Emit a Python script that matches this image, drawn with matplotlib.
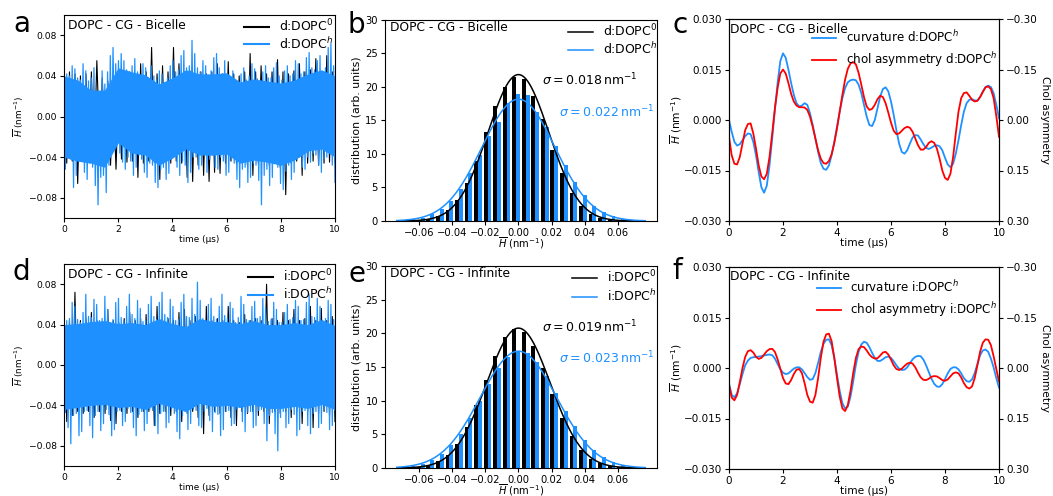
import numpy as np
import matplotlib
matplotlib.use("Agg")
import matplotlib.pyplot as plt

W, H = 1053, 496
BLUE = "#1E90FF"

# ---------------- time series (panels a, d), units 1e-3 nm^-1
# blue: extremes per 0.1 us window; black: extremes per 0.2 us window
blue_time = np.linspace(0, 10, 200)
black_time = np.linspace(0, 10, 100)
a_blue_hi = [61, 42, 40, 50, 47, 38, 36, 52, 45, 35, 38, 48, 22, 12, 45, 32, 44, 60, 68, 52,
             55, 62, 55, 46, 42, 50, 57, 44, 40, 52, 48, 38, 50, 40, 36, 45, 42, 33, 38, 50,
             55, 44, 46, 60, 65, 48, 50, 75, 62, 48, 44, 55, 50, 40, 45, 58, 62, 48, 42, 55,
             28, 36, 45, 36, 34, 42, 48, 36, 40, 52, 47, 37, 35, 44, 50, 38, 38, 48, 53, 40,
             36, 45, 50, 40, 42, 55, 52, 42, 44, 58, 63, 48, 46, 55, 60, 44, 48, 68, 72, 50]
a_blue_lo = [-52, -40, -42, -70, -58, -44, -40, -55, -62, -46, -50, -68, -87, -60, -58, -75, -48, -35, -15, -25,
             -36, -45, -52, -40, -44, -58, -50, -38, -42, -55, -60, -46, -48, -65, -70, -52, -50, -62, -56, -42,
             -38, -50, -58, -44, -48, -65, -55, -40, -40, -52, -48, -36, -55, -42, -38, -50, -52, -40, -44, -58,
             -55, -42, -46, -62, -70, -52, -50, -65, -60, -46, -48, -63, -87, -58, -52, -68, -60, -46, -50, -66,
             -72, -54, -48, -62, -55, -42, -40, -50, -52, -40, -45, -36, -38, -48, -55, -42, -40, -34, -48, -65]
a_black_hi = [55, 44, 42, 40, 42, 44, 55, 38, 35, 25, 35, 42, 44, 42, 52, 44, 68, 42, 50, 44,
              68, 52, 44, 45, 42, 44, 42, 44, 52, 42, 54, 42, 40, 44, 62, 44, 50, 42, 44, 56,
              44, 42, 45, 52, 44, 46, 57, 42, 60, 44]
a_black_lo = [-46, -44, -66, -44, -45, -42, -25, -42, -48, -52, -42, -45, -44, -60, -46, -44, -45, -62, -44, -46,
              -44, -46, -60, -64, -48, -58, -64, -55, -56, -46, -44, -46, -44, -48, -58, -46, -44, -48, -46, -50,
              -77, -46, -44, -58, -46, -44, -48, -46, -45, -46]
# dense core of the blue band, read every 0.5 us
core_time = np.linspace(0, 10, 21)
a_core_hi = [40, 36, 26, 26, 48, 44, 41, 32, 38, 46, 42, 42, 43, 34, 37, 35, 33, 36, 42, 46, 40]
a_core_lo = [-40, -44, -46, -50, -26, -36, -38, -48, -41, -32, -38, -38, -37, -46, -43, -45, -48, -43, -34, -32, -40]

d_blue_hi = [55, 44, 46, 62, 58, 45, 42, 52, 70, 48, 47, 65, 60, 44, 46, 68, 55, 42, 45, 62,
             66, 47, 44, 58, 70, 50, 46, 64, 56, 43, 44, 60, 68, 48, 45, 62, 72, 50, 47, 65,
             58, 44, 45, 62, 70, 48, 47, 66, 50, 82, 64, 46, 44, 60, 66, 48, 45, 58, 70, 49,
             46, 62, 56, 42, 47, 68, 60, 45, 44, 58, 63, 46, 48, 66, 57, 43, 45, 62, 55, 42,
             42, 52, 60, 45, 47, 64, 58, 44, 45, 62, 70, 48, 47, 66, 58, 44, 46, 64, 60, 45]
d_blue_lo = [-47, -62, -78, -50, -48, -70, -66, -46, -45, -60, -72, -50, -46, -65, -58, -44, -49, -70, -64, -46,
             -45, -60, -56, -43, -47, -62, -70, -49, -46, -65, -58, -44, -45, -60, -68, -48, -46, -62, -57, -44,
             -48, -66, -73, -50, -46, -64, -58, -44, -45, -60, -62, -46, -43, -55, -66, -47, -49, -70, -64, -46,
             -45, -60, -58, -44, -42, -56, -66, -47, -46, -62, -60, -45, -44, -58, -75, -50, -47, -68, -85, -52,
             -46, -62, -58, -44, -49, -70, -64, -46, -45, -60, -68, -48, -46, -62, -58, -44, -47, -64, -60, -45]
d_black_hi = [50, 44, 72, 44, 46, 52, 44, 42, 55, 44, 42, 46, 52, 44, 46, 50, 44, 58, 44, 46,
              44, 52, 55, 44, 48, 44, 58, 44, 46, 44, 58, 44, 42, 50, 44, 46, 44, 80, 46, 44,
              52, 44, 55, 44, 46, 58, 44, 56, 44, 48]
d_black_lo = [-56, -50, -46, -48, -46, -52, -46, -48, -55, -58, -46, -48, -46, -52, -46, -46, -60, -48, -46, -50,
              -46, -56, -48, -46, -52, -68, -50, -46, -48, -46, -52, -60, -46, -48, -46, -50, -46, -58, -46, -48,
              -46, -52, -46, -58, -46, -62, -48, -46, -50, -56]
d_core_hi = [40, 41, 43, 44, 41, 42, 40, 46, 41, 38, 46, 43, 43, 41, 44, 40, 40, 42, 40, 45, 39]
d_core_lo = [-44, -42, -40, -39, -42, -41, -44, -38, -42, -46, -38, -41, -40, -42, -39, -43, -43, -41, -43, -39, -44]

# ---------------- histograms (panels b, e)
hist_range = (-0.0733, 0.0763)
n_bins = 26
b_black = [0.01, 0.04, 0.12, 0.32, 0.76, 1.6, 3.2, 5.6, 8.9, 13.2, 17.1, 20.0, 21.5, 21.2, 18.6, 15.2,
           10.6, 7.2, 4.2, 2.3, 1.1, 0.5, 0.2, 0.07, 0.02, 0.01]
b_blue = [0.11, 0.24, 0.5, 0.97, 1.8, 3.0, 4.8, 7.1, 9.8, 12.6, 14.8, 17.6, 18.9, 18.8, 16.3, 14.0,
          11.2, 8.4, 5.8, 3.8, 2.3, 1.3, 0.7, 0.35, 0.16, 0.07]
e_black = [0.025, 0.07, 0.19, 0.45, 0.98, 1.96, 3.6, 6.1, 9.3, 13.0, 16.6, 19.4, 20.6, 20.2, 18.1, 14.8,
           11.0, 7.5, 4.7, 2.7, 1.4, 0.67, 0.29, 0.12, 0.04, 0.014]
e_blue = [0.16, 0.33, 0.65, 1.19, 2.07, 3.35, 5.1, 7.4, 9.9, 12.5, 14.8, 16.5, 17.3, 17.1, 15.8, 13.7,
          11.1, 8.5, 6.2, 4.1, 2.65, 1.57, 0.89, 0.46, 0.23, 0.11]
b_sigma = [0.0183, 0.022]
e_sigma = [0.0192, 0.023]

# ---------------- smoothed curvature / chol asymmetry (panels c, f)
sm_time = np.round(np.arange(101) * 0.1, 1)
c_curv = [0.0000, -0.0035, -0.0065, -0.0076, -0.0072, -0.0060, -0.0048, -0.0040, -0.0042, -0.0065,
          -0.0105, -0.0155, -0.0200, -0.0216, -0.0195, -0.0135, -0.0055, 0.0030, 0.0110, 0.0175,
          0.0198, 0.0185, 0.0150, 0.0110, 0.0075, 0.0050, 0.0040, 0.0043, 0.0050, 0.0045,
          0.0020, -0.0015, -0.0055, -0.0095, -0.0128, -0.0145, -0.0148, -0.0135, -0.0105, -0.0065,
          -0.0020, 0.0025, 0.0065, 0.0095, 0.0112, 0.0118, 0.0120, 0.0118, 0.0105, 0.0080,
          0.0045, 0.0010, -0.0015, -0.0018, 0.0000, 0.0035, 0.0070, 0.0092, 0.0097, 0.0085,
          0.0055, 0.0015, -0.0030, -0.0070, -0.0095, -0.0100, -0.0090, -0.0070, -0.0052, -0.0045,
          -0.0046, -0.0058, -0.0072, -0.0083, -0.0086, -0.0082, -0.0077, -0.0075, -0.0078, -0.0090,
          -0.0112, -0.0132, -0.0140, -0.0130, -0.0100, -0.0060, -0.0015, 0.0025, 0.0050, 0.0060,
          0.0062, 0.0058, 0.0058, 0.0068, 0.0085, 0.0098, 0.0102, 0.0098, 0.0080, 0.0045, 0.0005]
c_chol = [0.050, 0.105, 0.130, 0.132, 0.110, 0.070, 0.030, 0.012, 0.010, 0.040,
          0.085, 0.135, 0.168, 0.176, 0.160, 0.110, 0.040, -0.035, -0.095, -0.138,
          -0.150, -0.138, -0.110, -0.078, -0.055, -0.043, -0.038, -0.038, -0.037, -0.030,
          -0.010, 0.020, 0.055, 0.090, 0.115, 0.128, 0.130, 0.122, 0.102, 0.068,
          0.025, -0.025, -0.075, -0.120, -0.152, -0.168, -0.172, -0.165, -0.140, -0.105,
          -0.068, -0.040, -0.030, -0.033, -0.045, -0.062, -0.072, -0.068, -0.050, -0.022,
          0.008, 0.032, 0.042, 0.040, 0.032, 0.024, 0.020, 0.023, 0.035, 0.055,
          0.075, 0.088, 0.088, 0.080, 0.068, 0.063, 0.068, 0.085, 0.115, 0.150,
          0.172, 0.178, 0.160, 0.110, 0.040, -0.025, -0.065, -0.080, -0.082, -0.072,
          -0.060, -0.055, -0.057, -0.068, -0.083, -0.097, -0.100, -0.092, -0.065, -0.012, 0.050]
f_curv = [-0.0046, -0.0080, -0.0087, -0.0075, -0.0048, -0.0018, 0.0008, 0.0022, 0.0030, 0.0032,
          0.0033, 0.0034, 0.0035, 0.0037, 0.0039, 0.0040, 0.0038, 0.0028, 0.0012, -0.0004,
          -0.0014, -0.0018, -0.0016, -0.0009, -0.0002, 0.0002, 0.0002, -0.0004, -0.0015, -0.0027,
          -0.0035, -0.0033, -0.0015, 0.0015, 0.0048, 0.0072, 0.0084, 0.0085, 0.0068, 0.0030,
          -0.0020, -0.0068, -0.0105, -0.0120, -0.0115, -0.0085, -0.0040, 0.0010, 0.0048, 0.0070,
          0.0078, 0.0075, 0.0062, 0.0045, 0.0030, 0.0021, 0.0021, 0.0026, 0.0032, 0.0034,
          0.0030, 0.0020, 0.0008, -0.0002, -0.0006, -0.0005, 0.0002, 0.0014, 0.0026, 0.0033,
          0.0036, 0.0035, 0.0025, 0.0008, -0.0012, -0.0032, -0.0047, -0.0055, -0.0056, -0.0048,
          -0.0033, -0.0016, -0.0003, 0.0002, 0.0002, -0.0004, -0.0016, -0.0030, -0.0039, -0.0041,
          -0.0034, -0.0015, 0.0012, 0.0038, 0.0052, 0.0055, 0.0048, 0.0028, 0.0002, -0.0030, -0.0058]
f_chol = [0.050, 0.088, 0.096, 0.080, 0.042, 0.000, -0.033, -0.050, -0.053, -0.046,
          -0.033, -0.027, -0.030, -0.040, -0.050, -0.056, -0.057, -0.048, -0.026, 0.002,
          0.030, 0.046, 0.048, 0.036, 0.018, 0.005, 0.003, 0.015, 0.045, 0.080,
          0.100, 0.103, 0.080, 0.030, -0.030, -0.078, -0.100, -0.102, -0.080, -0.030,
          0.030, 0.085, 0.120, 0.128, 0.110, 0.068, 0.015, -0.030, -0.056, -0.064,
          -0.062, -0.052, -0.040, -0.032, -0.028, -0.029, -0.037, -0.046, -0.048, -0.040,
          -0.025, -0.008, 0.003, 0.006, 0.002, -0.006, -0.013, -0.016, -0.013, -0.002,
          0.014, 0.028, 0.035, 0.036, 0.032, 0.026, 0.024, 0.025, 0.030, 0.036,
          0.038, 0.034, 0.025, 0.016, 0.013, 0.016, 0.028, 0.045, 0.057, 0.061,
          0.055, 0.030, -0.008, -0.048, -0.075, -0.085, -0.084, -0.068, -0.035, 0.003, 0.040]

# ---------------- figure
fig = plt.figure(figsize=(W / 100, H / 100), dpi=100)


def add_ax(l, t, r, b):
    return fig.add_axes([l / W, 1 - b / H, (r - l) / W, (b - t) / H])


def interleave(hi, lo):
    return np.ravel(np.column_stack([hi, lo])) * 1e-3


HBAR = r'$\overline{H}$ (nm$^{-1}$)'


def ts_panel(rect, bhi, blo, khi, klo, chi, clo, prefix, title, leg_y):
    ax = add_ax(*rect)
    ax.plot(black_time, interleave(khi, klo), color="black", lw=0.8, label=prefix + 'DOPC$^0$', zorder=1)
    ax.fill_between(core_time, np.array(clo) * 1e-3, np.array(chi) * 1e-3, color=BLUE, lw=0, zorder=1.5)
    ax.plot(blue_time, interleave(bhi, blo), color=BLUE, lw=0.9, label=prefix + 'DOPC$^h$', zorder=2)
    ax.set_xlim(0, 10)
    ax.set_ylim(-0.1, 0.1)
    ax.set_yticks([-0.08, -0.04, 0.0, 0.04, 0.08])
    ax.set_xticks([0, 2, 4, 6, 8, 10])
    ax.tick_params(labelsize=6.6, length=3, pad=2)
    ax.set_xlabel('time (µs)', fontsize=6.4, labelpad=1)
    ax.set_ylabel(HBAR, fontsize=6.4, labelpad=2)
    ax.text(0.015, 0.95, title, transform=ax.transAxes, fontsize=8.8, va='center', ha='left')
    leg = ax.legend(loc='upper right', bbox_to_anchor=(1.012, leg_y), frameon=False, fontsize=9,
                    borderaxespad=0, labelspacing=0.12, handlelength=2.0, handletextpad=0.8)
    for ln in leg.get_lines():
        ln.set_linewidth(1.5)
    return ax


def hist_panel(rect, black, blue, sig, prefix, title, sig_pos):
    ax = add_ax(*rect)
    edges = np.linspace(hist_range[0], hist_range[1], n_bins + 1)
    w = edges[1] - edges[0]
    ax.bar(edges[:-1] + 0.1 * w, black, width=0.4 * w, align='edge', color='black', lw=0)
    ax.bar(edges[:-1] + 0.5 * w, blue, width=0.4 * w, align='edge', color=BLUE, lw=0)
    xs = np.linspace(hist_range[0], hist_range[1], 300)
    for s, col, lab in zip(sig, ['black', BLUE], [prefix + 'DOPC$^0$', prefix + 'DOPC$^h$']):
        ax.plot(xs, np.exp(-xs ** 2 / (2 * s ** 2)) / (s * np.sqrt(2 * np.pi)), color=col, lw=1.1, label=lab)
    ax.set_xlim(-0.0805, 0.0836)
    ax.set_ylim(0, 30)
    ax.set_xticks([-0.06, -0.04, -0.02, 0.0, 0.02, 0.04, 0.06])
    ax.set_yticks([0, 5, 10, 15, 20, 25, 30])
    ax.tick_params(labelsize=7.2, length=3, pad=2)
    ax.set_xlabel(HBAR, fontsize=7.2, labelpad=-1.5)
    ax.set_ylabel('distribution (arb. units)', fontsize=7.9, labelpad=3)
    ax.text(0.018, 0.962, title, transform=ax.transAxes, fontsize=8.8, va='center', ha='left')
    for s, col, (px, py) in zip(sig, ['black', BLUE], sig_pos):
        ax.text(px, py, r'$\sigma = %.3f\,\mathrm{nm}^{-1}$' % s, color=col, fontsize=9, va='center', ha='left')
    ax.legend(loc='upper right', bbox_to_anchor=(1.018, 1.01), frameon=False, fontsize=9,
              borderaxespad=0, labelspacing=0.2, handlelength=2.0, handletextpad=0.8)
    return ax


def smooth_panel(rect, curv, chol, prefix, title, ty, leg_y):
    ax = add_ax(*rect)
    l1, = ax.plot(sm_time, curv, color=BLUE, lw=1.3, label='curvature ' + prefix + 'DOPC$^h$')
    ax.set_xlim(0, 10)
    ax.set_ylim(-0.03, 0.03)
    ax.set_yticks([-0.03, -0.015, 0.0, 0.015, 0.03])
    ax.set_xticks([0, 2, 4, 6, 8, 10])
    ax.tick_params(labelsize=7.5, length=3, pad=2)
    ax.set_xlabel('time (µs)', fontsize=7.6, labelpad=0)
    ax.set_ylabel(HBAR, fontsize=7.6, labelpad=0)
    ax2 = ax.twinx()
    l2, = ax2.plot(sm_time, chol, color='red', lw=1.3, label='chol asymmetry ' + prefix + 'DOPC$^h$')
    ax2.set_ylim(0.3, -0.3)
    ax2.set_yticks([-0.3, -0.15, 0.0, 0.15, 0.3])
    ax2.tick_params(labelsize=7.5, length=3, pad=2)
    ax2.set_ylabel('Chol asymmetry', fontsize=7.7, rotation=270, labelpad=9)
    ax.text(0.003, ty, title, transform=ax.transAxes, fontsize=8.8, va='center', ha='left')
    ax2.legend([l1, l2], [l1.get_label(), l2.get_label()], loc='upper right', bbox_to_anchor=(1.011, leg_y),
               frameon=False, fontsize=8.6, borderaxespad=0, labelspacing=0.45, handlelength=2.0,
               handletextpad=0.8)
    return ax


ts_panel((64, 15, 335, 218), a_blue_hi, a_blue_lo, a_black_hi, a_black_lo, a_core_hi, a_core_lo,
         'd:', 'DOPC - CG - Bicelle', 1.012)
ts_panel((64, 264, 335, 466), d_blue_hi, d_blue_lo, d_black_hi, d_black_lo, d_core_hi, d_core_lo,
         'i:', 'DOPC - CG - Infinite', 1.005)
hist_panel((385, 19.5, 657, 221), b_black, b_blue, b_sigma, 'd:', 'DOPC - CG - Bicelle',
           [(0.0143, 21.0), (0.0243, 16.3)])
hist_panel((385, 266, 657, 468), e_black, e_blue, e_sigma, 'i:', 'DOPC - CG - Infinite',
           [(0.0143, 21.0), (0.0243, 16.3)])
smooth_panel((729, 19, 999, 221), c_curv, c_chol, 'd:', 'DOPC - CG - Bicelle', 0.95, 0.975)
smooth_panel((729, 267, 999, 469), f_curv, f_chol, 'i:', 'DOPC - CG - Infinite', 0.955, 0.965)

for letter, x, y in [('a', 13, 32), ('b', 348, 33), ('c', 673, 33),
                     ('d', 13, 280), ('e', 348, 282), ('f', 672, 279)]:
    fig.text(x / W, 1 - y / H, letter, fontsize=20, va='baseline', ha='left')

fig.savefig('out.png', dpi=100)
